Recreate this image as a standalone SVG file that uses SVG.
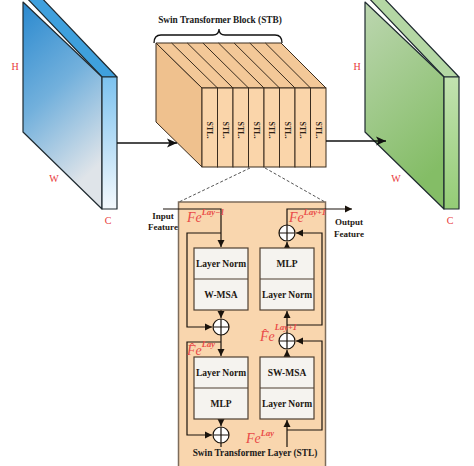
<svg xmlns="http://www.w3.org/2000/svg" width="474" height="466" viewBox="0 0 474 466">
<defs>
<linearGradient id="gBlueFront" x1="0" y1="0" x2="0.35" y2="1">
<stop offset="0" stop-color="#2a89cf"/><stop offset="0.5" stop-color="#72b0dc"/><stop offset="1" stop-color="#dfe4e9"/>
</linearGradient>
<linearGradient id="gBlueSide" x1="0" y1="0" x2="0" y2="1">
<stop offset="0" stop-color="#7cc2ef"/><stop offset="1" stop-color="#f4f9fd"/>
</linearGradient>
<linearGradient id="gGreenFront" x1="0" y1="0" x2="0.35" y2="1">
<stop offset="0" stop-color="#bcd6b0"/><stop offset="1" stop-color="#84bd66"/>
</linearGradient>
<linearGradient id="gGreenSide" x1="0" y1="0" x2="0" y2="1">
<stop offset="0" stop-color="#c2e2b0"/><stop offset="1" stop-color="#94cc76"/>
</linearGradient>
<marker id="bigArrow" markerUnits="userSpaceOnUse" markerWidth="11" markerHeight="10" refX="10" refY="5" orient="auto">
<path d="M0,0.5 L10,5 L0,9.5 L2.5,5 z" fill="#111"/>
</marker>
<marker id="arr" markerUnits="userSpaceOnUse" markerWidth="8" markerHeight="8" refX="7" refY="4" orient="auto">
<path d="M0,0.5 L7,4 L0,7.5 z" fill="#1a130c"/>
</marker>
</defs>
<style>
.slab{stroke:#1f2a30;stroke-width:1.2;stroke-linejoin:round}
.dim{font-family:"Liberation Serif","Times New Roman",serif;font-size:10px;fill:#e8383a;text-anchor:middle}
.title{font-family:"Liberation Serif","Times New Roman",serif;font-size:9.3px;font-weight:bold;fill:#1a1a1a;text-anchor:middle}
.cube{stroke:#3a2c1e;stroke-width:1}
.stl{font-family:"Liberation Serif","Times New Roman",serif;font-size:8px;font-weight:bold;fill:#2a2016;text-anchor:middle;dominant-baseline:central}
.box{fill:#f5f3ef;stroke:#4e3f30;stroke-width:1.2}
.btxt{font-family:"Liberation Serif","Times New Roman",serif;font-size:9.5px;font-weight:bold;fill:#1d1812;text-anchor:middle}
.io{font-family:"Liberation Serif","Times New Roman",serif;font-size:9px;font-weight:bold;fill:#1d1812;text-anchor:middle}
.ln{fill:none;stroke:#1a130c;stroke-width:1.2}
.big{fill:none;stroke:#111;stroke-width:1.6}
.dash{fill:none;stroke:#555;stroke-width:1;stroke-dasharray:3,2}
.sum{fill:#fff;stroke:#1a130c;stroke-width:1.2}
.fe{font-family:"Liberation Serif","Times New Roman",serif;font-style:italic;fill:#e94b48}
.feb{font-size:14px}
.fes{font-size:8.5px;font-weight:bold}
</style>

<g id="input-tensor">
<polygon class="slab" points="23,-6 102,77 117,77 38,-6" fill="#3fa0dd"/>
<polygon class="slab" points="23,2 102,77 102,209 23,132" fill="url(#gBlueFront)"/>
<polygon class="slab" points="102,77 117,77 117,209 102,209" fill="url(#gBlueSide)"/>
<text class="dim" x="15" y="70">H</text>
<text class="dim" x="54" y="182">W</text>
<text class="dim" x="108" y="224">C</text>
</g>

<g id="output-tensor">
<polygon class="slab" points="365,-6 444,77 459,77 380,-6" fill="#b4d7a4"/>
<polygon class="slab" points="365,2 444,77 444,209 365,132" fill="url(#gGreenFront)"/>
<polygon class="slab" points="444,77 459,77 459,209 444,209" fill="url(#gGreenSide)"/>
<text class="dim" x="357" y="70">H</text>
<text class="dim" x="396" y="182">W</text>
<text class="dim" x="450" y="224">C</text>
</g>

<g id="stb">
<text class="title" x="220" y="23">Swin Transformer Block (STB)</text>
<path d="M154,43 Q154,35 161,35 L213,35 Q219,35 219,29 Q219,35 225,35 L275,35 Q282,35 282,43" fill="none" stroke="#111" stroke-width="1.3"/>
<polygon class="cube" points="156,43 202,88 202,167 156,122" fill="#efc18e"/>
<polygon class="cube" points="156,43 281,43 326,88 202,88" fill="#f3c898"/>
<g class="cube" fill="#fad5aa">
<rect x="202" y="88" width="15.5" height="79"/>
<rect x="217.5" y="88" width="15.5" height="79"/>
<rect x="233" y="88" width="15.5" height="79"/>
<rect x="248.5" y="88" width="15.5" height="79"/>
<rect x="264" y="88" width="15.5" height="79"/>
<rect x="279.5" y="88" width="15.5" height="79"/>
<rect x="295" y="88" width="15.5" height="79"/>
<rect x="310.5" y="88" width="15.5" height="79"/>
</g>
<g class="cube">
<line x1="217.5" y1="88" x2="171.6" y2="43"/>
<line x1="233" y1="88" x2="187.3" y2="43"/>
<line x1="248.5" y1="88" x2="202.9" y2="43"/>
<line x1="264" y1="88" x2="218.5" y2="43"/>
<line x1="279.5" y1="88" x2="234.1" y2="43"/>
<line x1="295" y1="88" x2="249.8" y2="43"/>
<line x1="310.5" y1="88" x2="265.4" y2="43"/>
</g>
<text class="stl" x="209.75" y="130" transform="rotate(90 209.75 130)">STL.</text>
<text class="stl" x="225.25" y="130" transform="rotate(90 225.25 130)">STL.</text>
<text class="stl" x="240.75" y="130" transform="rotate(90 240.75 130)">STL.</text>
<text class="stl" x="256.25" y="130" transform="rotate(90 256.25 130)">STL.</text>
<text class="stl" x="271.75" y="130" transform="rotate(90 271.75 130)">STL.</text>
<text class="stl" x="287.25" y="130" transform="rotate(90 287.25 130)">STL.</text>
<text class="stl" x="302.75" y="130" transform="rotate(90 302.75 130)">STL.</text>
<text class="stl" x="318.25" y="130" transform="rotate(90 318.25 130)">STL.</text>
</g>

<g id="stl-panel">
<rect x="178.5" y="202" width="147" height="275" fill="#f9d6ae" stroke="#7d6c5b" stroke-width="1.5"/>
</g>

<g id="connectors">
<path class="big" d="M117,143 H177" marker-end="url(#bigArrow)"/>
<path class="big" d="M326,141 H386" marker-end="url(#bigArrow)"/>
<path class="dash" d="M250,168 L179,202"/>
<path class="dash" d="M265,168 L325,202"/>
<path class="ln" d="M163,209 H221 V247" marker-end="url(#arr)"/>
<path class="ln" d="M221,233 H187 V327 H212" marker-end="url(#arr)"/>
<path class="ln" d="M221,310 V318" marker-end="url(#arr)"/>
<path class="ln" d="M221,335 V356" marker-end="url(#arr)"/>
<path class="ln" d="M221,342 H187 V435 H212" marker-end="url(#arr)"/>
<path class="ln" d="M221,419 V426" marker-end="url(#arr)"/>
<path class="ln" d="M221,443 V452 H287 V420" marker-end="url(#arr)"/>
<path class="ln" d="M287,430 H322 V341 H296" marker-end="url(#arr)"/>
<path class="ln" d="M287,357 V350" marker-end="url(#arr)"/>
<path class="ln" d="M287,333 V311" marker-end="url(#arr)"/>
<path class="ln" d="M287,325 H322 V233 H296" marker-end="url(#arr)"/>
<path class="ln" d="M287,248 V242" marker-end="url(#arr)"/>
<path class="ln" d="M287,225 V209 H352" marker-end="url(#arr)"/>
</g>

<g id="labels">
<text class="io" x="163" y="219">Input</text>
<text class="io" x="163" y="230">Feature</text>
<text class="io" x="349" y="225">Output</text>
<text class="io" x="349" y="237">Feature</text>
<text class="fe" x="187" y="222"><tspan class="feb">Fe</tspan><tspan class="fes" dy="-7">Lay−1</tspan></text>
<text class="fe" x="289" y="222"><tspan class="feb">Fe</tspan><tspan class="fes" dy="-7">Lay+1</tspan></text>
<text class="fe" x="187" y="355"><tspan class="feb">F̂e</tspan><tspan class="fes" dy="-8">Lay</tspan></text>
<text class="fe" x="260" y="341"><tspan class="feb">F̂e</tspan><tspan class="fes" dy="-11">Lay+1</tspan></text>
<text class="fe" x="246" y="443"><tspan class="feb">Fe</tspan><tspan class="fes" dy="-7">Lay</tspan></text>
</g>

<g id="ln-wmsa">
<rect class="box" x="194" y="248" width="54" height="62"/>
<line x1="194" y1="279" x2="248" y2="279" stroke="#4e3f30" stroke-width="1.2"/>
<text class="btxt" x="221" y="267">Layer Norm</text>
<text class="btxt" x="221" y="298">W-MSA</text>
</g>
<g id="mlp-ln-top">
<rect class="box" x="260" y="248" width="54" height="62"/>
<line x1="260" y1="279" x2="314" y2="279" stroke="#4e3f30" stroke-width="1.2"/>
<text class="btxt" x="287" y="267">MLP</text>
<text class="btxt" x="287" y="298">Layer Norm</text>
</g>
<g id="ln-mlp">
<rect class="box" x="194" y="357" width="54" height="62"/>
<line x1="194" y1="388" x2="248" y2="388" stroke="#4e3f30" stroke-width="1.2"/>
<text class="btxt" x="221" y="376">Layer Norm</text>
<text class="btxt" x="221" y="407">MLP</text>
</g>
<g id="swmsa-ln">
<rect class="box" x="260" y="357" width="54" height="62"/>
<line x1="260" y1="388" x2="314" y2="388" stroke="#4e3f30" stroke-width="1.2"/>
<text class="btxt" x="287" y="376">SW-MSA</text>
<text class="btxt" x="287" y="407">Layer Norm</text>
</g>

<g id="sum1"><circle class="sum" cx="221" cy="327" r="8"/><path class="ln" d="M213,327 H229 M221,319 V335"/></g>
<g id="sum2"><circle class="sum" cx="221" cy="435" r="8"/><path class="ln" d="M213,435 H229 M221,427 V443"/></g>
<g id="sum3"><circle class="sum" cx="287" cy="341" r="8"/><path class="ln" d="M279,341 H295 M287,333 V349"/></g>
<g id="sum4"><circle class="sum" cx="287" cy="233" r="8"/><path class="ln" d="M279,233 H295 M287,225 V241"/></g>

<g id="stl-caption">
<rect x="192" y="447" width="128" height="11" fill="#f9d6ae"/>
<text class="title" x="255" y="456">Swin Transformer Layer (STL)</text>
</g>
</svg>
